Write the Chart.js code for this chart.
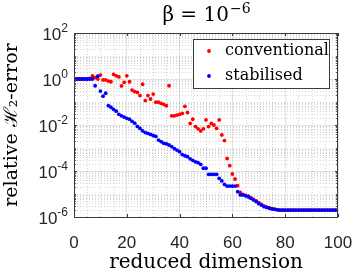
<!DOCTYPE html>
<html>
<head>
<meta charset="utf-8">
<script src="https://cdn.jsdelivr.net/npm/chart.js@4.4.1/dist/chart.umd.min.js"></script>
<style>
html,body{margin:0;padding:0;background:#fff;}
#wrap{width:354px;height:273px;position:relative;}
</style>
</head>
<body>
<div id="wrap"><canvas id="c" width="354" height="273"></canvas></div>
<script>
// ---- data ----
const dims = [1,2,3,4,5,6,7,8,9,10,11,12,13,14,15,16,17,18,19,20,21,22,23,24,25,26,27,28,29,30,31,32,33,34,35,36,37,38,39,40,41,42,43,44,45,46,47,48,49,50,51,52,53,54,55,56,57,58,59,60,61,62,63,64,65,66,67,68,69,70,71,72,73,74,75,76,77,78,79,80,81,82,83,84,85,86,87,88,89,90,91,92,93,94,95,96,97,98,99,100];
const conventional = [1.0,1.0,1.0,1.0,1.0,1.05,1.38,1.15,1.0,1.48,
  0.91,0.91,0.81,0.76,1.58,1.38,1.23,0.50,0.72,1.38,
  0.76,0.33,0.28,0.26,0.19,0.59,0.115,0.19,0.135,0.22,
  0.098,0.098,0.087,0.079,0.069,0.51,0.025,0.025,0.027,0.029,
  0.032,0.065,0.035,0.0117,0.0178,0.0085,0.0068,0.0055,0.0068,0.0166,
  0.0085,0.0117,0.010,0.0072,0.0166,0.0037,0.0021,3.5e-4,1.7e-4,7.4e-5,
  4.5e-5,2.3e-5,1.17e-5,9.6e-6,8.8e-6,8.0e-6,6.9e-6,5.8e-6,5.0e-6,4.2e-6,
  3.5e-6,3.0e-6,2.7e-6,2.5e-6,2.3e-6,2.2e-6,2.1e-6,2.0e-6,2.0e-6,2.0e-6,
  2.0e-6,2.0e-6,2.0e-6,2.0e-6,2.0e-6,2.0e-6,2.0e-6,2.0e-6,2.0e-6,2.0e-6,
  2.0e-6,2.0e-6,2.0e-6,2.0e-6,2.0e-6,2.0e-6,2.0e-6,2.0e-6,2.0e-6,2.0e-6];
const stabilised = [1.0,1.0,1.0,1.0,1.0,1.0,1.0,0.51,1.32,0.30,
  0.18,0.24,0.069,0.059,0.048,0.040,0.029,0.025,0.022,0.0195,
  0.018,0.0145,0.012,0.0087,0.0071,0.0056,0.0047,0.0043,0.0039,0.0035,
  0.0032,0.0022,0.0019,0.0016,0.0015,0.00135,0.00115,0.00093,0.00081,0.00069,
  0.00052,0.00046,0.00042,0.00034,0.00029,0.00025,0.00023,0.000195,0.000132,0.000132,
  7.2e-5,7.2e-5,7.2e-5,7.2e-5,4.8e-5,3.7e-5,2.6e-5,2.2e-5,2.2e-5,2.2e-5,
  2.2e-5,1.26e-5,9.1e-6,9.1e-6,8.3e-6,7.6e-6,6.5e-6,5.5e-6,4.7e-6,3.8e-6,
  3.3e-6,2.8e-6,2.6e-6,2.4e-6,2.25e-6,2.15e-6,2.05e-6,2.0e-6,2.0e-6,2.0e-6,
  2.0e-6,2.0e-6,2.0e-6,2.0e-6,2.0e-6,2.0e-6,2.0e-6,2.0e-6,2.0e-6,2.0e-6,
  2.0e-6,2.0e-6,2.0e-6,2.0e-6,2.0e-6,2.0e-6,2.0e-6,2.0e-6,2.0e-6,2.0e-6];
const seriesLabels = ['conventional','stabilised'];
const xTicks = [0,20,40,60,80,100];
const yTickExponents = [-6,-4,-2,0,2];
const titleBase = 'β = 10';
const titleExp = '−6';
const xTitle = 'reduced dimension';
const yTitle = 'relative ℋ₂-error';

const SERIF = '"DejaVu Serif", serif';
const SANS = '"Liberation Sans", Arial, sans-serif';
const BOX = '#3a3a3a';

function pts(ys){ return dims.map((d,i)=>({x:d,y:ys[i]})); }

const decor = {
  id:'decor',
  beforeDatasetsDraw(chart){
    const ctx = chart.ctx, a = chart.chartArea;
    const xs = chart.scales.x, ys = chart.scales.y;
    ctx.save();
    ctx.lineWidth = 1;
    ctx.strokeStyle = 'rgba(0,0,0,0.16)';
    ctx.setLineDash([1,2]);
    for(let e=-6;e<2;e++){
      for(let m=2;m<=10;m++){
        const v = m*Math.pow(10,e);
        if(m===10 && (e+1)%2===0) continue;
        const py = Math.round(ys.getPixelForValue(v))+0.5;
        ctx.beginPath(); ctx.moveTo(a.left,py); ctx.lineTo(a.right,py); ctx.stroke();
      }
    }
    for(let v=5; v<100; v+=5){
      if(v%20===0) continue;
      const px = Math.round(xs.getPixelForValue(v))+0.5;
      ctx.beginPath(); ctx.moveTo(px,a.top); ctx.lineTo(px,a.bottom); ctx.stroke();
    }
    ctx.restore();
  },
  afterDatasetsDraw(chart){
    const ctx = chart.ctx, a = chart.chartArea;
    const xs = chart.scales.x, ys = chart.scales.y;
    ctx.save();
    ctx.setLineDash([]);
    ctx.strokeStyle = BOX; ctx.lineWidth = 1;
    ctx.strokeRect(Math.round(a.left)+0.5, Math.round(a.top)+0.5, Math.round(a.right-a.left)-1, Math.round(a.bottom-a.top));
    xTicks.forEach(v=>{
      const px = Math.round(xs.getPixelForValue(v))+0.5;
      ctx.beginPath();
      ctx.moveTo(px,a.bottom); ctx.lineTo(px,a.bottom-3);
      ctx.moveTo(px,a.top); ctx.lineTo(px,a.top+3);
      ctx.stroke();
    });
    for(let e=-6;e<=2;e++){
      for(let m=1;m<=9;m++){
        const v = m*Math.pow(10,e);
        if(v>100) break;
        const major = (m===1 && e%2===0);
        const len = major?3:1.8;
        const py = Math.round(ys.getPixelForValue(v))+0.5;
        ctx.beginPath();
        ctx.moveTo(a.left,py); ctx.lineTo(a.left+len,py);
        ctx.moveTo(a.right,py); ctx.lineTo(a.right-len,py);
        ctx.stroke();
      }
    }
    ctx.fillStyle = '#262626';
    yTickExponents.forEach(e=>{
      const py = ys.getPixelForValue(Math.pow(10,e));
      const expStr = String(e);
      ctx.font = '12px '+SANS;
      const ew = ctx.measureText(expStr).width;
      const right = a.left - 6;
      ctx.textBaseline = 'alphabetic';
      ctx.textAlign = 'left';
      ctx.fillText(expStr, right-ew, py-1);
      ctx.font = '17px '+SANS;
      ctx.textAlign = 'right';
      ctx.fillText('10', right-ew, py+7);
    });
    ctx.fillStyle = '#000';
    ctx.font = '20px '+SERIF;
    const bw = ctx.measureText(titleBase).width;
    ctx.font = '14px '+SERIF;
    const tw = ctx.measureText(titleExp).width;
    const cx = (a.left+a.right)/2;
    const sx = cx - (bw+tw)/2;
    ctx.textAlign='left'; ctx.textBaseline='alphabetic';
    ctx.font = '20px '+SERIF;
    ctx.fillText(titleBase, sx, 21);
    ctx.font = '14px '+SERIF;
    ctx.fillText(titleExp, sx+bw+1, 13);
    const lw = 136, lh = 49;
    const lx = Math.round(a.right - 9 - lw), ly = Math.round(a.top + 6);
    ctx.fillStyle = '#fff';
    ctx.fillRect(lx, ly, lw, lh);
    ctx.strokeStyle = BOX;
    ctx.strokeRect(lx+0.5, ly+0.5, lw, lh);
    chart.data.datasets.forEach((ds,i)=>{
      const rowY = ly + 12 + i*25;
      ctx.fillStyle = ds.backgroundColor;
      ctx.beginPath(); ctx.arc(lx+16, rowY, 1.9, 0, Math.PI*2); ctx.fill();
      ctx.fillStyle = '#000';
      ctx.font = '16px '+SERIF;
      ctx.textAlign='left'; ctx.textBaseline='middle';
      ctx.fillText(ds.label, lx+32, rowY);
    });
    ctx.restore();
  }
};

new Chart(document.getElementById('c'), {
  type:'scatter',
  data:{
    datasets:[
      {label:seriesLabels[0], data:pts(conventional), backgroundColor:'#ff0000', borderColor:'#ff0000', pointRadius:1.9, pointBorderWidth:0, order:1},
      {label:seriesLabels[1], data:pts(stabilised), backgroundColor:'#0000ff', borderColor:'#0000ff', pointRadius:1.9, pointBorderWidth:0, order:0}
    ]
  },
  options:{
    responsive:false, animation:false, devicePixelRatio:1,
    layout:{padding:{top:33,right:16,left:0,bottom:0}},
    plugins:{legend:{display:false}, title:{display:false}, tooltip:{enabled:false}},
    scales:{
      x:{
        type:'linear', min:0, max:100,
        afterBuildTicks(s){ s.ticks = xTicks.map(v=>({value:v})); },
        afterFit(s){ s.height = 56; s.paddingLeft = 0; s.paddingRight = 0; },
        grid:{color:'#e2e2e2', drawTicks:false},
        border:{display:false},
        ticks:{font:{family:SANS,size:17}, color:'#262626', padding:16, maxRotation:0},
        title:{display:true, text:xTitle, font:{family:SERIF,size:20,lineHeight:1}, color:'#000', padding:{top:0,bottom:0}}
      },
      y:{
        type:'logarithmic', min:1e-6, max:1e2,
        afterBuildTicks(s){ s.ticks = yTickExponents.map(e=>({value:Math.pow(10,e)})); },
        afterFit(s){ s.width = 74; s.paddingTop = 0; s.paddingBottom = 0; },
        grid:{color:'#e2e2e2', drawTicks:false},
        border:{display:false},
        ticks:{display:false},
        title:{display:true, text:yTitle, font:{family:SERIF,size:19,lineHeight:1}, color:'#000', padding:{top:3,bottom:0}}
      }
    }
  },
  plugins:[decor]
});
</script>
</body>
</html>
